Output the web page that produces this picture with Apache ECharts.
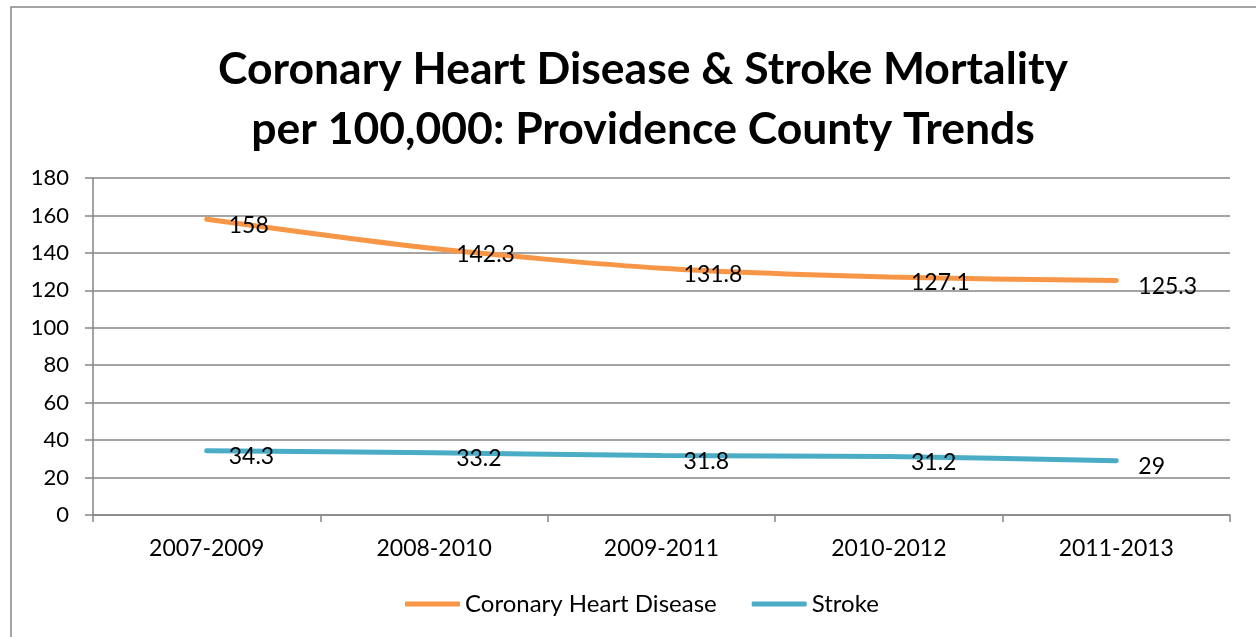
<!DOCTYPE html>
<html>
<head>
<meta charset="utf-8">
<title>CHD & Stroke Mortality</title>
<script src="https://cdn.jsdelivr.net/npm/echarts@6/dist/echarts.min.js"></script>
<style>
html, body { margin: 0; padding: 0; background: #fff; }
#main { width: 1256px; height: 637px; }
</style>
</head>
<body>
<div id="main"></div>
<script>
var periods = ['2007-2009', '2008-2010', '2009-2011', '2010-2012', '2011-2013'];
var chdValues = [158, 142.3, 131.8, 127.1, 125.3];
var strokeValues = [34.3, 33.2, 31.8, 31.2, 29];
var seriesNames = ['Coronary Heart Disease', 'Stroke'];

var font = 'Lato, "Open Sans", sans-serif';
var chart = echarts.init(document.getElementById('main'));

function lineSeries(name, data, color) {
    return {
        name: name,
        type: 'line',
        data: data,
        smooth: 0.25,
        symbol: 'circle',
        symbolSize: 0.1,
        showSymbol: true,
        lineStyle: { color: color, width: 5, cap: 'round' },
        itemStyle: { color: color },
        label: {
            show: true,
            position: 'right',
            distance: 22,
            offset: [0, 6],
            color: '#000',
            fontFamily: font,
            fontSize: 23
        }
    };
}

var option = {
    animation: false,
    title: {
        text: 'Coronary Heart Disease & Stroke Mortality\nper 100,000: Providence County Trends',
        left: 638,
        textAlign: 'center',
        top: 35,
        textStyle: { fontFamily: font, fontSize: 44.5, fontWeight: 'bold', color: '#000', lineHeight: 60 }
    },
    graphic: [{
        type: 'rect',
        shape: { x: 11, y: 7, width: 1300, height: 700 },
        style: { fill: 'none', stroke: '#868686', lineWidth: 1.5 },
        silent: true
    }],
    legend: {
        bottom: 16,
        left: 400,
        itemWidth: 55,
        itemHeight: 5,
        itemGap: 35,
        icon: 'roundRect',
        textStyle: { fontFamily: font, fontSize: 24, color: '#000' },
        data: seriesNames
    },
    grid: { left: 93, right: 26, top: 178, bottom: 122, containLabel: false },
    xAxis: {
        type: 'category',
        data: periods,
        boundaryGap: true,
        axisLine: { lineStyle: { color: '#868686', width: 1.5 } },
        axisTick: { show: true, length: 7, lineStyle: { color: '#868686', width: 1.5 } },
        axisLabel: { fontFamily: font, fontSize: 23, color: '#000', margin: 22 }
    },
    yAxis: {
        type: 'value',
        min: 0,
        max: 180,
        interval: 20,
        axisLine: { show: true, lineStyle: { color: '#868686', width: 1.5 } },
        axisTick: { show: true, length: 8, lineStyle: { color: '#868686', width: 1.5 } },
        splitLine: { lineStyle: { color: '#868686', width: 1.5 } },
        axisLabel: { fontFamily: font, fontSize: 22, color: '#000', margin: 24 }
    },
    series: [
        lineSeries(seriesNames[0], chdValues, '#F79646'),
        lineSeries(seriesNames[1], strokeValues, '#4BACC6')
    ]
};
chart.setOption(option);
</script>
</body>
</html>
